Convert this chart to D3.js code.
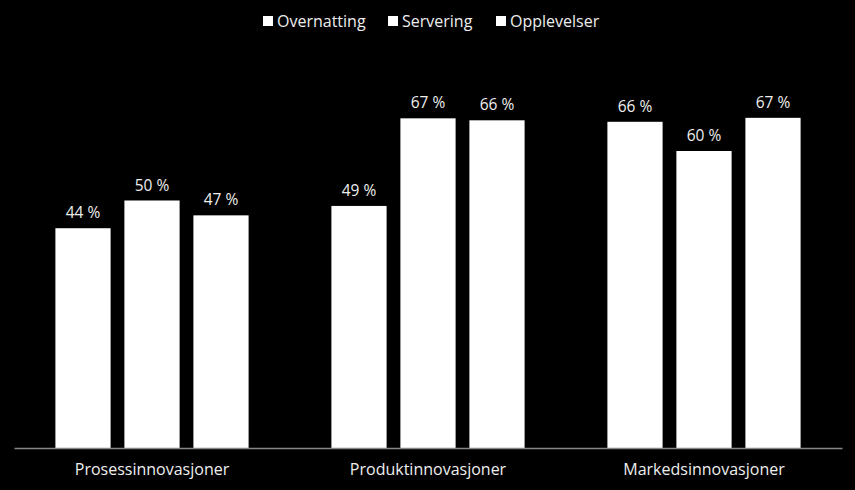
<!DOCTYPE html>
<html lang="no">
<head>
<meta charset="UTF-8">
<title>Innovasjoner</title>
<script src="https://cdnjs.cloudflare.com/ajax/libs/d3/7.8.5/d3.min.js"></script>
<style>
    html, body { margin: 0; padding: 0; background: #000; }
    svg { display: block; font-family: "Open Sans", "DejaVu Sans", sans-serif; }
</style>
</head>
<body>
<div id="chart"></div>
<script>
    // data (bar heights; labels are rounded)
    const categories = ["Prosessinnovasjoner", "Produktinnovasjoner", "Markedsinnovasjoner"];
    const seriesNames = ["Overnatting", "Servering", "Opplevelser"];
    const overnatting = [0.444, 0.489, 0.659];
    const servering = [0.500, 0.666, 0.600];
    const opplevelser = [0.470, 0.662, 0.667];

    const seriesValues = [overnatting, servering, opplevelser];

    const width = 855, height = 490;
    const margin = { top: 52, right: 13, bottom: 42, left: 14 };

    const svg = d3.select("#chart").append("svg")
        .attr("width", width)
        .attr("height", height);

    svg.append("rect").attr("width", width).attr("height", height).attr("fill", "#000");

    const x0 = d3.scaleBand()
        .domain(categories)
        .range([margin.left, width - margin.right])
        .paddingInner(0)
        .paddingOuter(0);

    const x1 = d3.scaleBand()
        .domain(seriesNames)
        .range([0, x0.bandwidth()])
        .paddingInner(0.2)
        .paddingOuter(0.6);

    const y = d3.scaleLinear()
        .domain([0, 0.8])
        .range([height - margin.bottom, margin.top]);

    const rows = [];
    categories.forEach((c, i) => {
        seriesNames.forEach((s, j) => rows.push({ cat: c, series: s, value: seriesValues[j][i] }));
    });

    const fmt = v => Math.round(v * 100) + " %";

    // bars
    svg.append("g")
        .selectAll("rect")
        .data(rows)
        .join("rect")
        .attr("x", d => x0(d.cat) + x1(d.series))
        .attr("y", d => y(d.value))
        .attr("width", x1.bandwidth())
        .attr("height", d => y(0) - y(d.value))
        .attr("fill", "#fff");

    // value labels
    svg.append("g")
        .selectAll("text")
        .data(rows)
        .join("text")
        .attr("x", d => x0(d.cat) + x1(d.series) + x1.bandwidth() / 2)
        .attr("y", d => y(d.value) - 10)
        .attr("text-anchor", "middle")
        .attr("font-size", 15.5)
        .attr("fill", "#eeeeee")
        .text(d => fmt(d.value));

    // axis
    const xAxis = svg.append("g")
        .attr("transform", `translate(0,${y(0)})`)
        .call(d3.axisBottom(x0).tickSize(0).tickPadding(16));
    xAxis.select(".domain").attr("stroke", "#868686").attr("stroke-width", 1.3);
    xAxis.selectAll("text")
        .attr("font-size", 16)
        .attr("fill", "#eeeeee")
        .attr("font-family", "'Open Sans', sans-serif");

    // legend
    const legendX = [263, 388, 496];
    const legend = svg.append("g")
        .selectAll("g")
        .data(seriesNames)
        .join("g")
        .attr("transform", (d, i) => `translate(${legendX[i]},16)`);
    legend.append("rect")
        .attr("width", 10).attr("height", 10)
        .attr("fill", "#fff");
    legend.append("text")
        .attr("x", 14).attr("y", 10.5)
        .attr("font-size", 16)
        .attr("fill", "#eeeeee")
        .text(d => d);
</script>
</body>
</html>
